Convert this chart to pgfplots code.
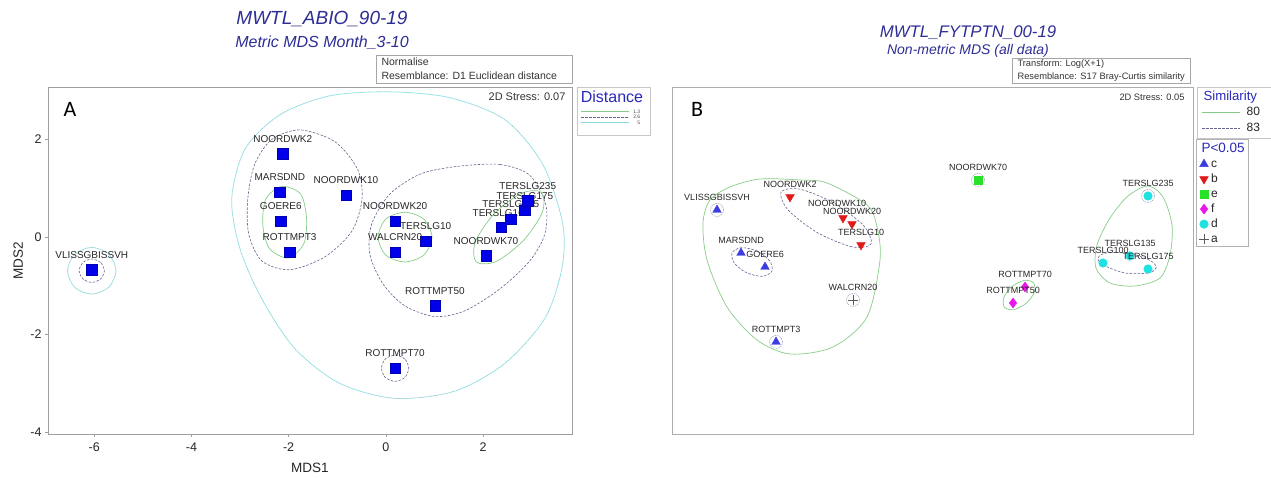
\documentclass[border=0pt]{standalone}
\usepackage{fontspec}
\setmainfont{Liberation Sans}
\newfontfamily\calib{Carlito}
\usepackage{pgfplots}
\pgfplotsset{compat=1.18}
\newcommand\fs[1]{\fontsize{#1}{#1}\selectfont}
\definecolor{titleblue}{RGB}{45,45,150}
\definecolor{legblue}{RGB}{40,40,185}
\definecolor{markblue}{RGB}{0,0,235}
\definecolor{greenc}{RGB}{135,205,135}
\definecolor{purplec}{RGB}{100,100,145}
\definecolor{cyanc}{RGB}{140,218,222}
\definecolor{cblue}{RGB}{60,60,225}
\definecolor{bred}{RGB}{225,25,25}
\definecolor{egreen}{RGB}{40,225,40}
\definecolor{fmag}{RGB}{235,20,235}
\definecolor{dcyan}{RGB}{30,225,225}
\definecolor{agray}{RGB}{90,90,90}
\pgfplotsset{
  grn/.style={forget plot, no markers, smooth cycle, greenc, line width=0.7pt},
  prp/.style={forget plot, no markers, smooth cycle, purplec, line width=0.6pt, dash pattern=on 2.5pt off 1.5pt},
  cyn/.style={forget plot, no markers, smooth cycle, cyanc, line width=0.8pt, dash pattern=on 1.5pt off 0.5pt},
}
\begin{document}
\begin{tikzpicture}[x=1pt,y=1pt]
\path[use as bounding box] (0,0) rectangle (1271,478);

% ---------------- Panel A ----------------
\begin{axis}[at={(48pt,44pt)}, anchor=south west, scale only axis,
  width=524pt, height=347pt,
  xmin=-6.95, xmax=3.83, ymin=-4.04, ymax=3.08,
  axis line style={draw=gray!75, line width=0.8pt},
  tick pos=left, tick align=outside, major tick length=3pt,
  tick style={gray!75, line width=0.6pt},
  xtick={-6,-4,-2,0,2}, ytick={-4,-2,0,2},
  ticklabel style={font=\fs{12.5}, text=black!85},
  xticklabel style={yshift=-2pt},
  /pgf/number format/assume math mode=true,
  xlabel={MDS1}, ylabel={MDS2},
  label style={font=\fs{13.5}, text=black!85},
  xlabel style={at={(axis description cs:0.5,-0.098)}, anchor=center},
  ylabel style={at={(axis description cs:-0.057,0.5)}, anchor=center},
  legend style={at={(axis description cs:1.0172,0.936)}, anchor=north west,
    draw=none, fill=none, inner sep=0pt, outer sep=0pt, font=\fs{5},
    row sep=1pt, column sep=3pt, text=black!70,
    nodes={inner sep=0.5pt, text height=3.6pt, text depth=0pt}},
  legend cell align=right,
  legend image code/.code={\draw[#1] (0pt,0pt) -- (48pt,0pt);},
]
\addlegendimage{greenc, line width=0.7pt}\addlegendentry{1.3}
\addlegendimage{purplec, line width=0.6pt, dash pattern=on 2.5pt off 1.5pt}\addlegendentry{2.6}
\addlegendimage{cyanc, line width=0.8pt, dash pattern=on 1.5pt off 0.5pt}\addlegendentry{5}

% distance 5
\addplot[cyn] coordinates {(0.08,2.98) (1.32,2.86) (2.45,2.41) (3.23,1.49) (3.64,0.27) (3.62,-0.65) (3.27,-1.67) (2.45,-2.59) (1.42,-3.16) (0.19,-3.31) (-0.95,-3.00) (-1.87,-2.29) (-2.55,-1.27) (-3.00,-0.24) (-3.17,0.78) (-2.90,1.80) (-2.18,2.51) (-1.15,2.90)};
\addplot[cyn] coordinates {(-5.55,-0.69) (-5.70,-0.35) (-6.05,-0.21) (-6.40,-0.35) (-6.55,-0.69) (-6.40,-1.03) (-6.05,-1.17) (-5.70,-1.03)};
% distance 2.6
\addplot[prp] coordinates {(-1.77,2.20) (-1.05,1.96) (-0.58,1.39) (-0.49,0.78) (-0.70,0.12) (-1.26,-0.41) (-1.98,-0.67) (-2.55,-0.49) (-2.82,0.06) (-2.84,0.78) (-2.70,1.49) (-2.35,2.00)};
\addplot[prp] coordinates {(1.46,1.45) (2.35,1.49) (2.96,1.27) (3.29,0.67) (3.27,0.06) (2.96,-0.49) (2.35,-1.06) (1.63,-1.51) (1.01,-1.63) (0.39,-1.41) (-0.06,-0.96) (-0.33,-0.35) (-0.29,0.27) (0.08,0.88) (0.70,1.29)};
\addplot[prp] coordinates {(-5.79,-0.69) (-5.87,-0.52) (-6.05,-0.45) (-6.23,-0.52) (-6.31,-0.69) (-6.23,-0.86) (-6.05,-0.93) (-5.87,-0.86)};
\addplot[prp] coordinates {(0.47,-2.69) (0.39,-2.50) (0.19,-2.42) (-0.01,-2.50) (-0.09,-2.69) (-0.01,-2.88) (0.19,-2.96) (0.39,-2.88)};
% distance 1.3
\addplot[grn] coordinates {(-1.63,0.37) (-1.75,0.88) (-2.14,1.04) (-2.47,0.78) (-2.53,0.24) (-2.39,-0.24) (-2.00,-0.43) (-1.69,-0.14)};
\addplot[grn] coordinates {(0.95,0) (0.78,0.37) (0.39,0.51) (0,0.37) (-0.16,0) (0,-0.37) (0.39,-0.51) (0.78,-0.37)};
\addplot[grn] coordinates {(3.20,0.92) (3.22,0.51) (2.83,-0.07) (2.27,-0.50) (1.86,-0.51) (1.84,-0.10) (2.23,0.48) (2.79,0.90)};

\addplot[forget plot, only marks, mark=square*, mark size=5.2pt,
  mark options={fill=markblue, draw=markblue!75!black, line width=0.4pt},
  point meta=explicit symbolic, nodes near coords,
  nodes near coords align={anchor=south},
  every node near coord/.append style={font=\fs{10}, text=black!85, inner sep=0pt, yshift=11pt}]
  table[meta=label] {
x y label
-6.05 -0.67 VLISSGBISSVH
-2.12 1.71 NOORDWK2
-2.18 0.92 MARSDND
-2.16 0.33 GOERE6
-1.98 -0.31 ROTTMPT3
-0.82 0.86 NOORDWK10
0.19 0.33 NOORDWK20
0.82 -0.08 TERSLG10
0.19 -0.31 WALCRN20
2.06 -0.38 NOORDWK70
2.37 0.20 TERSLG100
2.57 0.37 TERSLG135
2.86 0.55 TERSLG175
2.92 0.75 TERSLG235
1.01 -1.41 ROTTMPT50
0.19 -2.69 ROTTMPT70
};
\end{axis}

% ---------------- Panel B ----------------
\begin{axis}[at={(672pt,44pt)}, anchor=south west, scale only axis,
  width=521pt, height=347pt,
  xmin=0, xmax=521, ymin=0, ymax=347,
  xtick=\empty, ytick=\empty,
  axis line style={draw=gray!65, line width=0.8pt},
  legend style={at={(axis description cs:1.0115,0.798)}, anchor=north west,
    draw=none, fill=none, inner sep=0pt, outer sep=0pt, font=\fs{12},
    row sep=1pt, column sep=1pt, text=black!85,
    nodes={inner sep=1pt, text height=9pt, text depth=3pt}},
  legend cell align=left,
  legend image code/.code={\draw[#1] plot coordinates {(4pt,0pt)};},
]
% similarity 80
\addplot[grn] coordinates {(88,255) (128,254) (155,251) (195,229) (205,207) (208,174) (195,117) (161,87) (118,80) (85,94) (55,127) (35,174) (31,211) (38,234) (58,247)};
\addplot[grn] coordinates {(476,248) (491,237) (500,209) (498,179) (488,156) (463,148) (438,151) (424,166) (425,189) (438,216) (456,238)};
\addplot[grn] coordinates {(361.6,151.2) (362.3,141.6) (354.1,130.6) (341.7,124.4) (332.4,126.8) (331.7,136.4) (339.9,147.4) (352.3,153.6)};
% similarity 83
\addplot[prp] coordinates {(199,190) (179.9,187.2) (145.5,201.3) (116.1,224) (109,242) (128.1,244.8) (162.5,230.7) (191.9,208)};
\addplot[prp] coordinates {(99.9,162.7) (90.5,157.7) (74.9,161.1) (62.3,170.9) (60.1,181.3) (69.5,186.3) (85.1,182.9) (97.7,173.1)};
\addplot[prp] coordinates {(484,166) (476,161) (453,161) (431,169) (426,176) (434,181) (457,181) (479,173)};
\addplot[forget plot, only marks, mark=o, mark size=6.5pt,
  mark options={draw=purplec!70, line width=0.5pt, dash pattern=on 1.5pt off 1pt}]
  coordinates {(45,224) (104,92) (181,134) (306,254) (476,238)};

\pgfplotsset{lab/.style={point meta=explicit symbolic, nodes near coords,
  nodes near coords align={anchor=south},
  every node near coord/.append style={font=\fs{9}, text=black!85, inner sep=0pt, yshift=9.5pt}}}
\addplot[only marks, lab, mark=triangle*, mark size=5pt, mark options={fill=cblue, draw=cblue}]
  table[meta=label] {
x y label
45 224 VLISSGBISSVH
69 181 MARSDND
93 167 GOERE6
104 92 ROTTMPT3
};
\addlegendentry{c}
\addplot[only marks, lab, mark=triangle*, mark size=5pt, mark options={rotate=180, fill=bred, draw=bred}]
  table[meta=label] {
x y label
118 237 NOORDWK2
180 210 NOORDWK20
189 189 TERSLG10
};
\addlegendentry{b}
\addplot[forget plot, only marks, lab, mark=triangle*, mark size=5pt, mark options={rotate=180, fill=bred, draw=bred},
  every node near coord/.append style={xshift=-6pt, yshift=1.5pt}]
  table[meta=label] {
x y label
171 216 NOORDWK10
};
\addplot[only marks, lab, mark=square*, mark size=4.2pt, mark options={fill=egreen, draw=egreen}]
  table[meta=label] {
x y label
306 254 NOORDWK70
};
\addlegendentry{e}
\addplot[only marks, lab, mark=diamond*, mark size=5pt, mark options={fill=fmag, draw=fmag}]
  table[meta=label] {
x y label
353 147 ROTTMPT70
341 131 ROTTMPT50
};
\addlegendentry{f}
\addplot[only marks, lab, mark=*, mark size=4.3pt, mark options={fill=dcyan, draw=dcyan}]
  table[meta=label] {
x y label
476 238 TERSLG235
458 178 TERSLG135
431 171 TERSLG100
476 165 TERSLG175
};
\addlegendentry{d}
\addplot[only marks, lab, mark=+, mark size=5pt, mark options={draw=agray, line width=0.8pt}]
  table[meta=label] {
x y label
181 134 WALCRN20
};
\addlegendentry{a}
\end{axis}

% similarity legend (hidden axis)
\begin{axis}[at={(672pt,44pt)}, anchor=south west, scale only axis,
  width=521pt, height=347pt, hide axis, xmin=0, xmax=1, ymin=0, ymax=1,
  legend style={at={(axis description cs:1.0173,0.9467)}, anchor=north west,
    draw=none, fill=none, inner sep=0pt, outer sep=0pt, font=\fs{12},
    row sep=3pt, column sep=5pt, text=black!85,
    nodes={inner sep=1pt, text height=9pt, text depth=2pt}},
  legend cell align=left,
  legend image code/.code={\draw[#1] (0pt,0pt) -- (38pt,0pt);},
]
\addlegendimage{greenc, line width=0.7pt}\addlegendentry{80}
\addlegendimage{purplec, line width=0.6pt, dash pattern=on 2.5pt off 1.5pt}\addlegendentry{83}
\end{axis}

% ---------------- Texts and boxes ----------------
\node[font=\fs{19}\itshape, text=titleblue] at (322,459) {MWTL\_ABIO\_90-19};
\node[font=\fs{16}\itshape, text=titleblue] at (322,435) {Metric MDS Month\_3-10};
\draw[gray!70, line width=0.6pt] (376,395) rectangle (572,423);
\node[font=\fs{10.5}, text=black!80, anchor=west] at (378,416) {Normalise};
\node[font=\fs{10.5}, text=black!80, anchor=west] at (378,402) {Resemblance: D1 Euclidean distance};
\node[font=\fs{11}, text=black!80, anchor=east] at (569,381) {2D Stress: 0.07};
\node[font=\calib\fs{22}, anchor=center] at (70,369) {A};
\draw[gray!45, line width=0.6pt] (577,343) rectangle (650,391);
\node[font=\fs{16}, text=legblue] at (612,381) {Distance};

\node[font=\fs{16.8}\itshape, text=titleblue] at (968,445) {MWTL\_FYTPTN\_00-19};
\node[font=\fs{14}\itshape, text=titleblue] at (968,427) {Non-metric MDS (all data)};
\draw[gray!70, line width=0.6pt] (1012,395) rectangle (1190,420);
\node[font=\fs{9.3}, text=black!80, anchor=west] at (1014,413.5) {Transform: Log(X+1)};
\node[font=\fs{9.3}, text=black!80, anchor=west] at (1014,401) {Resemblance: S17 Bray-Curtis similarity};
\node[font=\fs{9.3}, text=black!80, anchor=east] at (1188,381) {2D Stress: 0.05};
\node[font=\calib\fs{22}, anchor=center] at (697,369) {B};
\draw[gray!45, line width=0.6pt] (1197,340) -- (1197,391) -- (1271,391);
\draw[gray!45, line width=0.6pt] (1197,340) -- (1271,340);
\node[font=\fs{13.2}, text=legblue, anchor=west] at (1200,381) {Similarity};
\draw[gray!60, line width=0.6pt] (1196,232) rectangle (1248,339);
\node[font=\fs{13.5}, text=legblue, anchor=west] at (1198,330) {P<0.05};
\end{tikzpicture}
\end{document}
